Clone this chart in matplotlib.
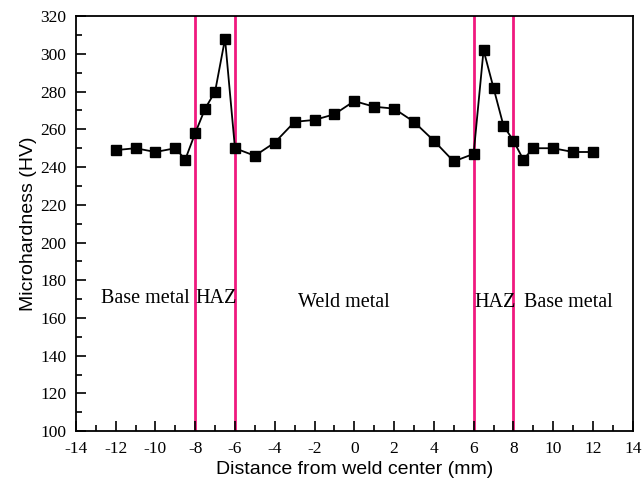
import matplotlib
matplotlib.use("Agg")
import matplotlib.pyplot as plt
from matplotlib.ticker import MultipleLocator

### data
distance = [-12, -11, -10, -9, -8.5, -8, -7.5, -7, -6.5, -6, -5, -4, -3, -2, -1, 0,
            1, 2, 3, 4, 5, 6, 6.5, 7, 7.5, 8, 8.5, 9, 10, 11, 12]
hardness = [249, 250, 248, 250, 244, 258, 271, 280, 308, 250, 246, 253, 264, 265, 268, 275,
            272, 271, 264, 254, 243, 247, 302, 282, 262, 254, 244, 250, 250, 248, 248]
zone_bounds = [-8, -6, 6, 8]
zone_labels = ["Base metal", "HAZ", "Weld metal", "HAZ", "Base metal"]
zone_label_x = [-12.75, -8.0, -0.5, 6.05, 8.55]
zone_label_y = [170.5, 170.5, 168, 168, 168]
zone_label_ha = ["left", "left", "center", "left", "left"]

serif = "Liberation Serif"
sans = "Liberation Sans"
plt.rcParams["axes.unicode_minus"] = False

fig = plt.figure(figsize=(6.43, 4.9), dpi=100)
ax = fig.add_axes([0.118, 0.12, 0.866, 0.847])

for xb in zone_bounds:
    ax.axvline(xb, color="#f0197f", lw=2, zorder=1)

ax.plot(distance, hardness, color="black", lw=1.3, marker="s", markersize=7.5,
        markerfacecolor="black", markeredgecolor="black", zorder=3)

for label, lx, ly, ha in zip(zone_labels, zone_label_x, zone_label_y, zone_label_ha):
    ax.text(lx, ly, label, ha=ha, va="center", fontsize=14.5, family=serif)

ax.set_xlim(-14, 14)
ax.set_ylim(100, 320)
ax.xaxis.set_major_locator(MultipleLocator(2))
ax.xaxis.set_minor_locator(MultipleLocator(1))
ax.yaxis.set_major_locator(MultipleLocator(20))
ax.yaxis.set_minor_locator(MultipleLocator(10))
ax.tick_params(which="both", direction="in", top=False, right=False, width=1.2)
ax.tick_params(which="major", length=7, labelsize=12.5, pad=7)
ax.tick_params(which="minor", length=4)
for lab in ax.get_xticklabels() + ax.get_yticklabels():
    lab.set_family(serif)
for sp in ax.spines.values():
    sp.set_linewidth(1.3)

ax.set_xlabel("Distance from weld center (mm)", fontsize=14, family=sans, labelpad=3)
ax.set_ylabel("Microhardness (HV)", fontsize=14, family=sans, labelpad=2)

fig.savefig("out.png", dpi=100)
